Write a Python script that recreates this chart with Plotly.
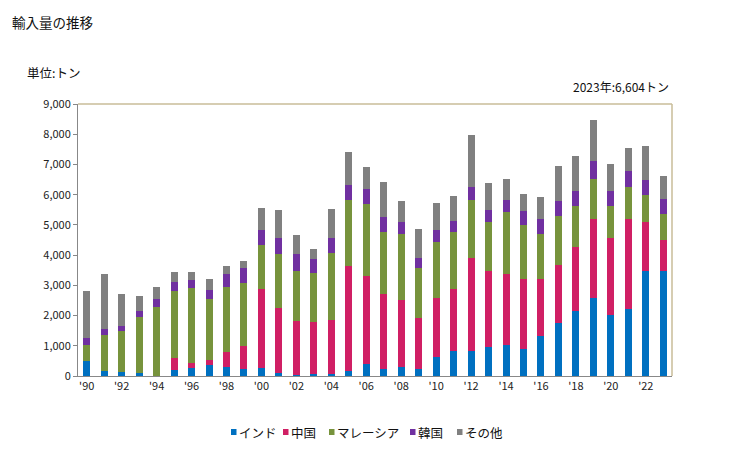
import plotly.graph_objects as go

years = list(range(1990, 2024))
india = [500, 165, 130, 100, 0, 210, 275, 365, 300, 230, 275, 100, 35, 75, 75, 165, 410,
         220, 310, 230, 630, 830, 830, 960, 1025, 895, 1335, 1755, 2150, 2595, 2020, 2220, 3475, 3460]
china = [0, 0, 0, 0, 0, 385, 155, 165, 495, 770, 2605, 2165, 1785, 1710, 1775, 3475, 2900,
         2505, 2220, 1700, 1965, 2050, 3090, 2515, 2360, 2320, 1875, 1920, 2130, 2585, 2560, 2960, 1635, 1030]
malaysia = [530, 1190, 1360, 1855, 2285, 2220, 2485, 2020, 2150, 2075, 1455, 1775, 1655, 1625, 2220, 2185, 2385,
            2055, 2185, 1655, 1855, 1900, 1920, 1635, 2055, 1790, 1500, 1635, 1360, 1355, 1060, 1080, 895, 855]
korea = [230, 200, 175, 200, 265, 300, 265, 300, 430, 500, 495, 530, 565, 465, 500, 500, 500,
         495, 395, 330, 365, 365, 420, 395, 400, 440, 495, 465, 465, 565, 465, 510, 495, 525]
other = [1560, 1820, 1050, 500, 400, 330, 265, 365, 265, 230, 730, 925, 630, 330, 960, 1090, 730,
         1160, 695, 960, 925, 795, 1730, 895, 695, 565, 720, 1160, 1160, 1360, 895, 760, 1125, 734]

series_names = ["インド", "中国", "マレーシア", "韓国", "その他"]
series_colors = ["#0070c0", "#d01f64", "#77933c", "#7030a0", "#808080"]
tick_years = list(range(1990, 2024, 2))
tick_labels = ["'" + str(y)[2:] for y in tick_years]
y_ticks = list(range(0, 9001, 1000))

FONT = "Noto Sans CJK JP"

# page body has an 8px default margin; size the figure so the plot lands where the reference has it
W, H = 721, 442
L, R, T, B = 70, 57, 96, 74
PW, PH = W - L - R, H - T - B


def px(X):
    return (X - 8 - L) / PW


def py(Y):
    return (H - B - (Y - 8)) / PH


fig = go.Figure()
for name, vals, col in zip(series_names, [india, china, malaysia, korea, other], series_colors):
    fig.add_trace(go.Bar(x=years, y=vals, name=name, marker=dict(color=col, line=dict(width=0))))

# manual legend (small square + label), positions in reference pixels
legend_x = [231, 283, 329, 410, 457]
legend_y = 432
shapes = [
    dict(type="line", xref="paper", yref="paper", x0=0, x1=1, y0=1, y1=1,
         line=dict(color="#c8bd98", width=1.5)),
    dict(type="line", xref="paper", yref="paper", x0=1, x1=1, y0=0, y1=1,
         line=dict(color="#c8bd98", width=1.5)),
]
annotations = [
    dict(text="輸入量の推移", xref="paper", yref="paper", x=px(10), y=py(10),
         xanchor="left", yanchor="top", showarrow=False, font=dict(size=13.5, family=FONT, color="#111111")),
    dict(text="単位:トン", xref="paper", yref="paper", x=px(25), y=py(73),
         xanchor="left", yanchor="middle", showarrow=False, font=dict(size=12.5, family=FONT, color="#111111")),
    dict(text="2023年:6,604トン", xref="paper", yref="paper", x=px(671), y=py(86),
         xanchor="right", yanchor="middle", showarrow=False, font=dict(size=12, family=FONT, color="#111111")),
]
for name, col, lx in zip(series_names, series_colors, legend_x):
    shapes.append(dict(type="rect", xref="paper", yref="paper",
                       x0=px(lx), x1=px(lx + 5.5), y0=py(legend_y + 3), y1=py(legend_y - 3),
                       fillcolor=col, line=dict(width=0)))
    annotations.append(dict(text=name, xref="paper", yref="paper", x=px(lx + 6), y=py(legend_y),
                            xanchor="left", yanchor="middle", showarrow=False,
                            font=dict(size=12.5, family=FONT, color="#111111")))

fig.update_layout(
    barmode="stack",
    bargap=0.6,
    width=W, height=H,
    margin=dict(l=L, r=R, t=T, b=B),
    paper_bgcolor="white", plot_bgcolor="white",
    font=dict(family=FONT, size=11, color="#222222"),
    showlegend=False,
    xaxis=dict(range=[1989.5, 2023.5], tickmode="array", tickvals=tick_years, ticktext=tick_labels,
               showline=True, linecolor="#888888", linewidth=1, ticks="", showgrid=False,
               tickfont=dict(size=11, family=FONT), zeroline=False),
    yaxis=dict(range=[0, 9000], tickmode="array", tickvals=y_ticks,
               ticktext=[f"{v:,}" for v in y_ticks],
               showline=True, linecolor="#888888", linewidth=1, ticks="outside", ticklen=4,
               tickcolor="#888888", showgrid=False, zeroline=False,
               tickfont=dict(size=11, family=FONT)),
    annotations=annotations,
    shapes=shapes,
)

fig.write_html("out.html")
